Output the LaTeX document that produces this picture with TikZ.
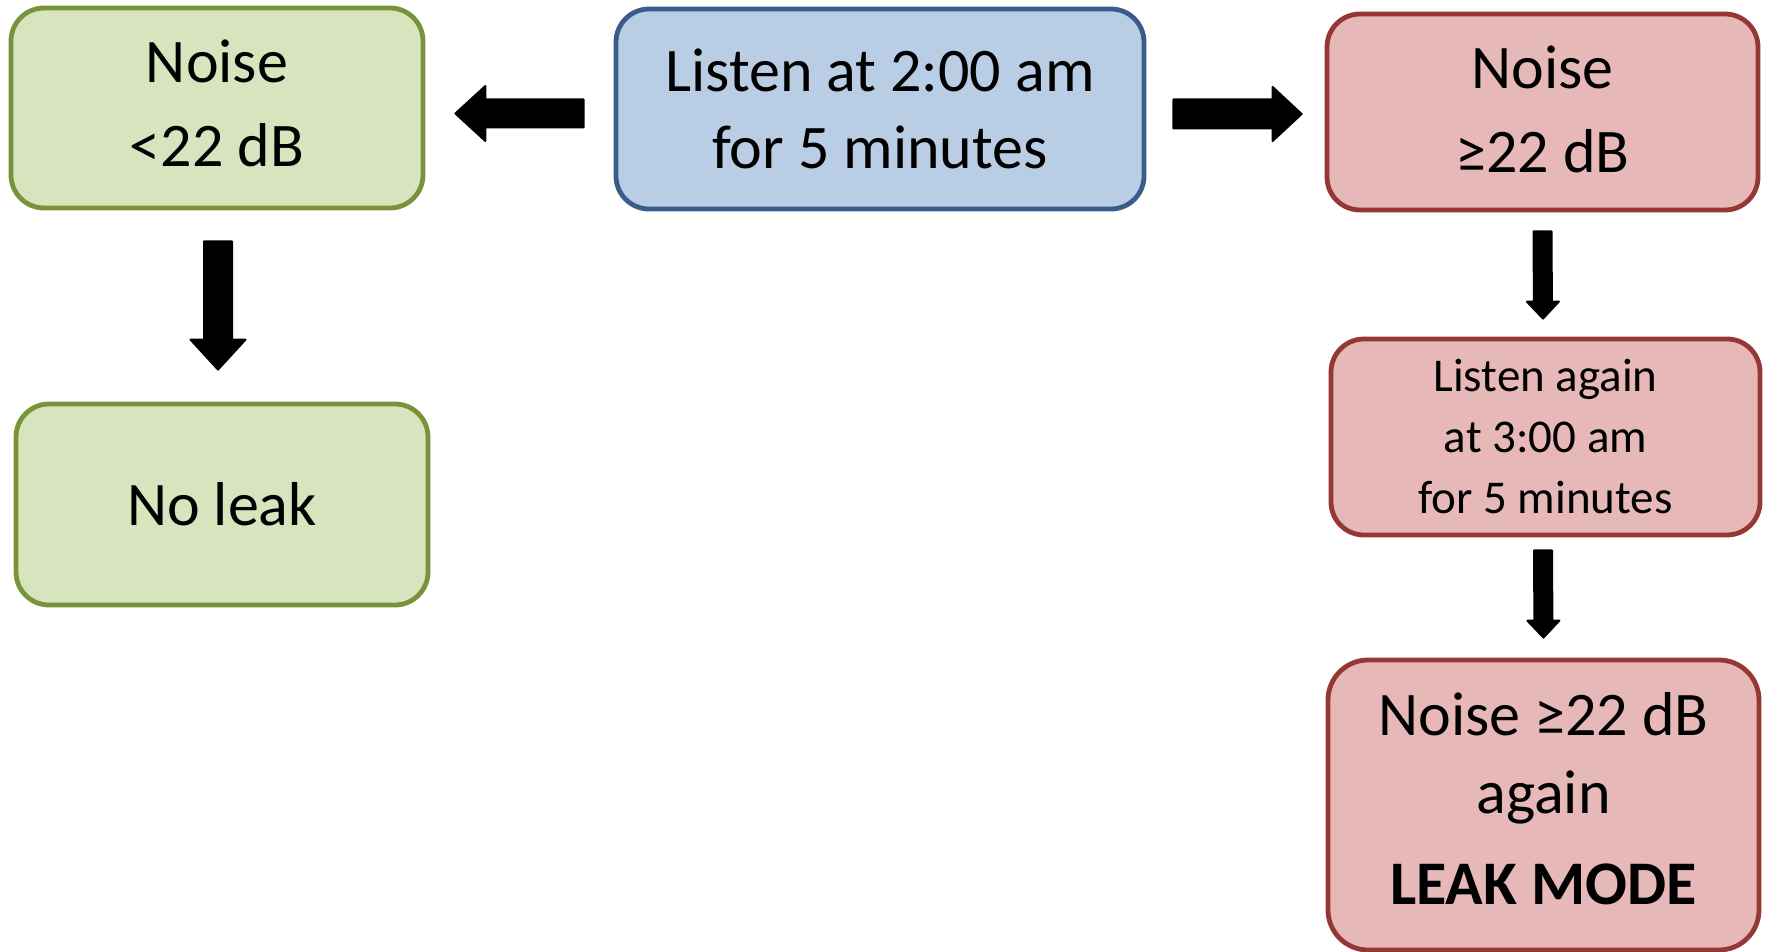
\documentclass[tikz,border=0pt]{standalone}
\usepackage{fontspec}
\setmainfont{Carlito}
\usetikzlibrary{calc}
\definecolor{gfill}{HTML}{D7E4BD}
\definecolor{gdraw}{HTML}{77933C}
\definecolor{bfill}{HTML}{B9CDE5}
\definecolor{bdraw}{HTML}{385D8A}
\definecolor{rfill}{HTML}{E6B9B8}
\definecolor{rdraw}{HTML}{953735}
\tikzset{
  box/.style={rectangle, rounded corners=16.5pt, line width=2.4pt, align=center, inner sep=0pt},
  greenbox/.style={box, fill=gfill, draw=gdraw},
  bluebox/.style={box, fill=bfill, draw=bdraw},
  redbox/.style={box, fill=rfill, draw=rdraw},
  bigtext/.style={font=\fontsize{31pt}{42pt}\selectfont},
  blockfill/.style={fill=black, draw=black, line width=1pt, line join=round},
}
\newcommand\blockarrow[5]{%
  \coordinate (bac) at ($(#2)!#5!(#1)$);
  \filldraw[blockfill] ($(#1)!#3!90:(#2)$) -- ($(bac)!#3!90:(#2)$) -- ($(bac)!#4!90:(#2)$) -- (#2)
    -- ($(bac)!#4!-90:(#2)$) -- ($(bac)!#3!-90:(#2)$) -- ($(#1)!#3!-90:(#2)$) -- cycle;
}
\begin{document}
\begin{tikzpicture}[x=0.5pt,y=-0.5pt]
\useasboundingbox (0,0) rectangle (1768,952);
\node[greenbox, bigtext, text depth=5pt, minimum width=206pt, minimum height=100pt] (gA) at (217,108) {Noise\\<22 dB};
\node[bluebox, font=\fontsize{31pt}{38.5pt}\selectfont, minimum width=264pt, minimum height=100pt] (bl) at (880,109) {Listen at 2:00 am\\for 5 minutes};
\node[redbox, bigtext, text depth=3pt, minimum width=215.5pt, minimum height=98pt] (r1) at (1542.5,112) {Noise\\≥22 dB};
\node[redbox, font=\fontsize{23.5pt}{30.5pt}\selectfont, minimum width=214.5pt, minimum height=98pt] (r2) at (1545.5,437) {Listen again\\at 3:00 am\\for 5 minutes};
\node[redbox, rounded corners=20pt, font=\fontsize{31pt}{39pt}\selectfont, text depth=6.5pt, minimum width=215.5pt, minimum height=145pt] (r3) at (1543.5,805) {Noise ≥22 dB\\again\\[6.5pt]\textbf{LEAK MODE}};
\node[greenbox, bigtext, minimum width=206pt, minimum height=100.5pt] (gB) at (222,504.5) {No leak};
% arrow end points
\coordinate (a1t) at ([xshift=-15pt,yshift=-2.25pt]bl.west);
\coordinate (a1h) at ([xshift=15pt,yshift=-2.75pt]gA.east);
\coordinate (a2t) at ([xshift=13.5pt,yshift=-2.5pt]bl.east);
\coordinate (a2h) at ([xshift=-11.5pt,yshift=-1pt]r1.west);
\coordinate (a3t) at ([xshift=0.5pt,yshift=-15.5pt]gA.south);
\coordinate (a3h) at ([xshift=-2pt,yshift=16pt]gB.north);
\coordinate (a4t) at ([yshift=-9.5pt]r1.south);
\coordinate (a4h) at ([xshift=-1.25pt,yshift=9pt]r2.north);
\coordinate (a5t) at ([xshift=-1.25pt,yshift=-6.5pt]r2.south);
\coordinate (a5h) at ([yshift=10pt]r3.north);
\blockarrow{a1t}{a1h}{7pt}{13.75pt}{15pt}
\blockarrow{a2t}{a2h}{7.25pt}{13.5pt}{14.5pt}
\blockarrow{a3t}{a3h}{7pt}{13.75pt}{15pt}
\blockarrow{a4t}{a4h}{4.5pt}{8pt}{8.5pt}
\blockarrow{a5t}{a5h}{4.5pt}{8pt}{8.5pt}
\end{tikzpicture}
\end{document}
